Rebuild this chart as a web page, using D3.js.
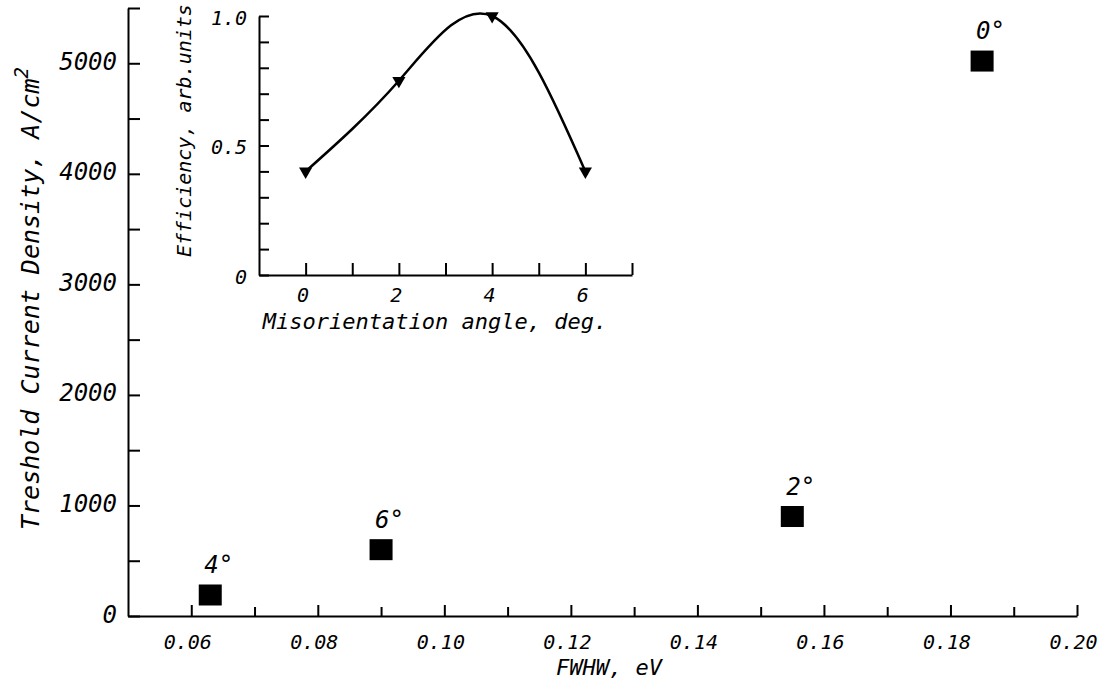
<!DOCTYPE html>
<html>
<head>
<meta charset="utf-8">
<script src="https://cdn.jsdelivr.net/npm/d3@7"></script>
<style>
  body { margin: 0; background: #fff; }
  svg { display: block; }
  text { font-family: "DejaVu Sans Mono", monospace; font-style: italic; fill: #000; }
</style>
</head>
<body>
<div id="chart"></div>
<script>
// main plot: threshold current density vs FWHW
const angleLabels = ["4°", "6°", "2°", "0°"];
const fwhw = [0.063, 0.090, 0.155, 0.185];
const jth = [190, 600, 900, 5020];

const xTicks = [0.06, 0.08, 0.10, 0.12, 0.14, 0.16, 0.18, 0.20];
const xMinor = [0.07, 0.09, 0.11, 0.13, 0.15, 0.17, 0.19];
const yTicks = [0, 1000, 2000, 3000, 4000, 5000];
const yMinor = [500, 1500, 2500, 3500, 4500, 5500];

// inset: efficiency vs misorientation angle
const misAngle = [0, 2, 4, 6];
const efficiency = [0.40, 0.75, 1.0, 0.40];
const inXTicks = [0, 1, 2, 3, 4, 5, 6, 7];
const inXLabels = [0, 2, 4, 6];
const inYTicks = [0, 0.1, 0.2, 0.3, 0.4, 0.5, 0.6, 0.7, 0.8, 0.9, 1.0];
const inYLabels = [0, 0.5, 1.0];

const width = 1099;
const height = 685;

const svg = d3.select("#chart").append("svg")
  .attr("width", width)
  .attr("height", height)
  .attr("viewBox", [0, 0, width, height]);

const x = d3.scaleLinear().domain([0.05, 0.20]).range([128, 1077]);
const y = d3.scaleLinear().domain([0, 5500]).range([616, 8]);

function styleAxis(g) {
  g.attr("font-family", null).attr("font-size", null);
  g.selectAll("path, line").attr("stroke", "#000").attr("stroke-width", 2);
}

// x axis
svg.append("g")
  .attr("transform", `translate(0,${y(0)})`)
  .call(d3.axisBottom(x).tickValues(xTicks).tickSize(-11).tickSizeOuter(0).tickPadding(19)
    .tickFormat(d3.format(".2f")))
  .call(styleAxis)
  .call(g => g.selectAll("text").attr("font-size", 20).attr("dx", -4));

svg.append("g")
  .attr("transform", `translate(0,${y(0)})`)
  .call(d3.axisBottom(x).tickValues(xMinor).tickSize(-9).tickFormat(""))
  .call(styleAxis)
  .call(g => g.select(".domain").remove());

// y axis
svg.append("g")
  .attr("transform", `translate(${x(0.05)},0)`)
  .call(d3.axisLeft(y).tickValues(yTicks).tickSize(-12).tickSizeOuter(0).tickPadding(11))
  .call(styleAxis)
  .call(g => g.selectAll("text").attr("font-size", 24).attr("dy", "0.25em").text(d => d));

svg.append("g")
  .attr("transform", `translate(${x(0.05)},0)`)
  .call(d3.axisLeft(y).tickValues(yMinor).tickSize(-12).tickFormat(""))
  .call(styleAxis)
  .call(g => g.select(".domain").remove());

// axis titles
svg.append("text")
  .attr("x", 609)
  .attr("y", 675)
  .attr("text-anchor", "middle")
  .attr("font-size", 22)
  .text("FWHW, eV");

const yTitle = svg.append("text")
  .attr("transform", "translate(39,530) rotate(-90)")
  .attr("font-size", 25)
  .text("Treshold Current Density, A/cm");
yTitle.append("tspan")
  .attr("dy", "-0.6em")
  .attr("font-size", 19)
  .text("2");

// squares
const pts = svg.append("g");
pts.selectAll("rect")
  .data(fwhw)
  .join("rect")
  .attr("x", (d) => x(d) - 11.5)
  .attr("y", (d, i) => y(jth[i]) - 10.5)
  .attr("width", 23)
  .attr("height", 21)
  .attr("fill", "#000");

pts.selectAll("text")
  .data(fwhw)
  .join("text")
  .attr("x", (d) => x(d) - 6)
  .attr("y", (d, i) => y(jth[i]) - 22)
  .attr("font-size", 24)
  .text((d, i) => angleLabels[i]);

// inset
const ix = d3.scaleLinear().domain([-1, 7]).range([259, 632]);
const iy = d3.scaleLinear().domain([0, 1]).range([275, 16]);

const inset = svg.append("g");

inset.append("g")
  .attr("transform", `translate(0,${iy(0)})`)
  .call(d3.axisBottom(ix).tickValues(inXTicks).tickSize(-12).tickSizeOuter(0).tickPadding(13)
    .tickFormat((d) => (inXLabels.includes(d) ? d : "")))
  .call(styleAxis)
  .call(g => g.selectAll("text").attr("font-size", 20).attr("dx", -3));

inset.append("g")
  .attr("transform", `translate(${ix(-1)},0)`)
  .call(d3.axisLeft(iy).tickValues(inYTicks).tickSize(-10).tickSizeOuter(0).tickPadding(12)
    .tickFormat((d) => (inYLabels.some((v) => Math.abs(v - d) < 1e-9) ? (d === 0 ? "0" : d3.format(".1f")(d)) : "")))
  .call(styleAxis)
  .call(g => g.selectAll("text").attr("font-size", 20).attr("dy", "0.4em"));

inset.append("text")
  .attr("x", 435)
  .attr("y", 329)
  .attr("text-anchor", "middle")
  .attr("font-size", 22)
  .text("Misorientation angle, deg.");

inset.append("text")
  .attr("transform", "translate(191,257) rotate(-90)")
  .attr("font-size", 20)
  .text("Efficiency, arb.units");

const curve = d3.line()
  .x((d) => ix(d))
  .y((d, i) => iy(efficiency[i]))
  .curve(d3.curveNatural);

inset.append("path")
  .attr("d", curve(misAngle))
  .attr("fill", "none")
  .attr("stroke", "#000")
  .attr("stroke-width", 2.5);

inset.selectAll("path.tri")
  .data(misAngle)
  .join("path")
  .attr("class", "tri")
  .attr("d", d3.symbol(d3.symbolTriangle, 75))
  .attr("transform", (d, i) => `translate(${ix(d)},${iy(efficiency[i])}) rotate(180)`)
  .attr("fill", "#000");
</script>
</body>
</html>
